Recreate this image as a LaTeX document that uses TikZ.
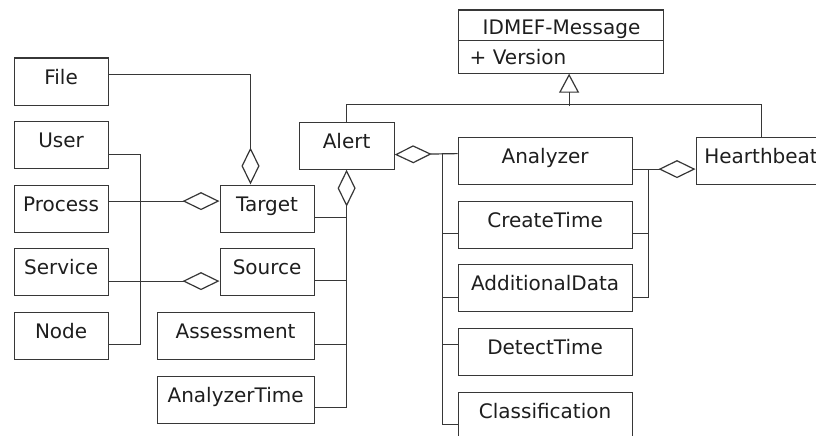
\documentclass[tikz,border=0pt]{standalone}
\usepackage{fontspec}
\setmainfont{DejaVu Sans}
\usetikzlibrary{arrows.meta,calc}
\definecolor{ln}{RGB}{55,55,55}
\definecolor{txt}{RGB}{30,30,30}
\tikzset{
  box/.style={draw=ln, line width=1.2pt, fill=white, rectangle, anchor=north west,
    inner sep=0pt, minimum height=47pt, minimum width=94pt,
    text height=13pt, text depth=8pt, font=\fontsize{20}{24}\selectfont, text=txt},
  lbl/.style={inner sep=0pt, font=\fontsize{20}{24}\selectfont, text=txt},
  con/.style={draw=ln, line width=1.2pt},
  agg/.style={con, -{Diamond[open, length=37pt, width=18pt, line width=1.2pt]}},
  gen/.style={con, -{Triangle[open, length=19pt, width=20pt, line width=1.2pt]}},
}
\begin{document}
\begin{tikzpicture}[x=1pt,y=-1pt]
\useasboundingbox (0,0) rectangle (816,436);
\fill[white] (0,0) rectangle (816,436);
\clip (0,0) rectangle (816,436);
\begin{scope}[shift={(0.5,0.5)}]
% boxes
\node[box] (file)    at (13,57)  {File};
\node[box] (user)    at (13,120) {User};
\node[box] (process) at (13,184) {Process};
\node[box] (service) at (13,247) {Service};
\node[box] (nodeb)   at (13,311) {Node};
\node[box] (target)  at (219,184) {Target};
\node[box] (source)  at (219,247) {Source};
\node[box, minimum width=157pt] (assess) at (156,311) {Assessment};
\node[box, minimum width=157pt] (atime)  at (156,375) {AnalyzerTime};
\node[box, minimum width=95pt] (alert)   at (298,121) {Alert};
\node[box, minimum width=174pt] (analyzer) at (457,136) {Analyzer};
\node[box, minimum width=174pt] (ctime)    at (457,200) {CreateTime};
\node[box, minimum width=174pt] (adata)    at (457,263) {AdditionalData};
\node[box, minimum width=174pt] (dtime)    at (457,327) {DetectTime};
\node[box, minimum width=174pt] (classif)  at (457,391) {Classification};
\node[box, minimum width=130pt] (hb)       at (695,136) {Hearthbeat};

% IDMEF-Message class
\node[box, minimum width=205pt, minimum height=63pt] (idmef) at (457,9) {};
\draw[con] (idmef.west |- 0,40) -- (idmef.east |- 0,40);
\node[lbl, anchor=base] (idmeft) at (561,34) {IDMEF-Message};
\node[lbl, anchor=base west] (vers) at (469,64) {+ Version};

% Target aggregations
\draw[agg] ([yshift=7.5pt]file.east) -| ([xshift=31pt]target.north west);
\draw[agg] ([yshift=7.5pt]process.east) -- ([yshift=7.5pt]target.west);
\draw[agg] ([yshift=-9.5pt]service.east) -- ([yshift=-9.5pt]source.west);
\draw[con] ([yshift=-9.5pt]user.east) -- ++(32,0) |- ([yshift=-8.5pt]nodeb.east);

% Alert bottom aggregation
\draw[agg] ([yshift=-7.5pt]atime.east) -| (alert.south);
\draw[con] ([yshift=-8.5pt]target.east) -- ++(32.5,0);
\draw[con] ([yshift=-8.5pt]source.east) -- ++(32.5,0);
\draw[con] ([yshift=-8.5pt]assess.east) -- ++(32.5,0);

% Generalization
\draw[con] (alert.north) -- ++(0,-17) -| (hb.north);
\draw[gen] ([xshift=8.5pt,yshift=-32pt]idmef.south) -- ([xshift=8.5pt]idmef.south);

% Alert right aggregation
\draw[agg] ([yshift=7pt]analyzer.west) -- ([yshift=-9pt]alert.east);
\draw[con] ([xshift=-15pt,yshift=7pt]analyzer.west) |- ([yshift=-8.5pt]classif.west);
\draw[con] ([yshift=-8.5pt]ctime.west) -- ++(-15,0);
\draw[con] ([yshift=-9.5pt]adata.west) -- ++(-15,0);
\draw[con] ([yshift=7.5pt]dtime.west) -- ++(-15,0);

% Hearthbeat aggregation
\draw[agg] ([yshift=-8.5pt]analyzer.east) -- ([yshift=-8.5pt]hb.west);
\draw[con] ([xshift=16pt,yshift=-8.5pt]analyzer.east) |- ([yshift=-9.5pt]adata.east);
\draw[con] ([yshift=-8.5pt]ctime.east) -- ++(16,0);
\end{scope}
\end{tikzpicture}
\end{document}
